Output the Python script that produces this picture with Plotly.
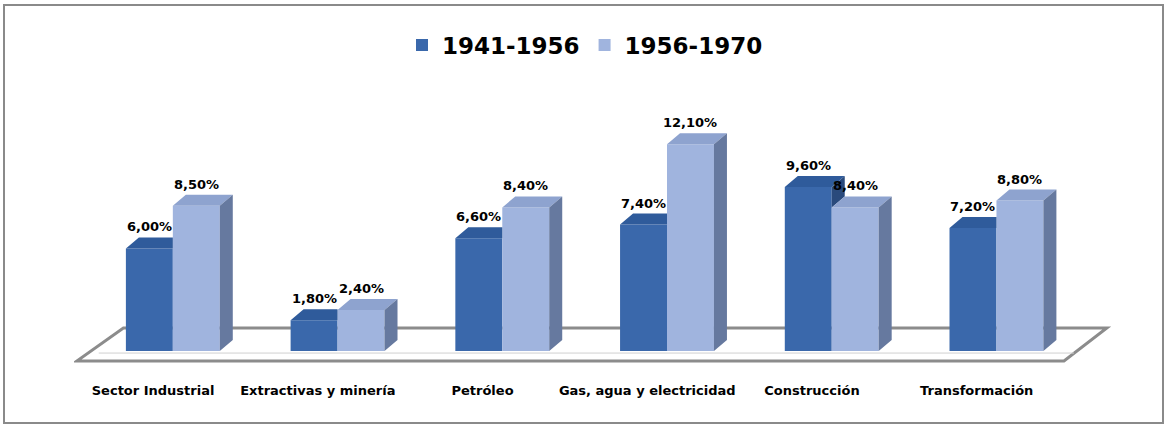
import plotly.graph_objects as go

# ---------------- data ----------------
categories = ["Sector Industrial", "Extractivas y minería", "Petróleo",
              "Gas, agua y electricidad", "Construcción", "Transformación"]
series_names = ["1941-1956", "1956-1970"]
v1941 = [6.0, 1.8, 6.6, 7.4, 9.6, 7.2]
v1956 = [8.5, 2.4, 8.4, 12.1, 8.4, 8.8]

# ---------------- layout geometry ----------------
W, H = 1167, 427
n = len(categories)
XR = (-0.6, n - 1 + 0.75)
YR = (-1.40, 15.85)
ML, MT, MB = 74, 80, 52
px_x = 164.8
MR = int(round(W - ML - px_x * (XR[1] - XR[0])))
pw, ph = W - ML - MR, H - MT - MB
px_x = pw / (XR[1] - XR[0])
px_y = ph / (YR[1] - YR[0])
BW = 0.285                 # width of each bar (category units)
DX = 13 / px_x             # 3D depth offset, horizontal
DY = 11 / px_y             # 3D depth offset, vertical

FONT = "DejaVu Sans"
C_DARK = dict(front="#3a68ab", top="#2f5b9b", side="#2a4a7c")
C_LIGHT = dict(front="#a0b4de", top="#8ea3cf", side="#66799f")

idx = list(range(n))
x_dark = [i - BW / 2 for i in idx]
x_light = [i + BW / 2 for i in idx]

fig = go.Figure()

# front faces (real bars)
fig.add_trace(go.Bar(x=x_dark, y=v1941, width=BW, name=series_names[0],
                     marker=dict(color=C_DARK["front"], line=dict(width=0)),
                     hoverinfo="skip"))
fig.add_trace(go.Bar(x=x_light, y=v1956, width=BW, name=series_names[1],
                     marker=dict(color=C_LIGHT["front"], line=dict(width=0)),
                     hoverinfo="skip"))


def poly_trace(xs, ys, color):
    return go.Scatter(x=xs, y=ys, mode="lines", fill="toself", fillcolor=color,
                      line=dict(width=0, color=color), showlegend=False,
                      hoverinfo="skip")


# dark bars: top and visible part of side
tx, ty, sx, sy = [], [], [], []
for i in idx:
    D, L = v1941[i], v1956[i]
    x0 = x_dark[i] - BW / 2
    xr = x_dark[i] + BW / 2
    if L > D:
        tx += [x0, xr, xr, x0 + DX, x0, None]
        ty += [D, D, D + DY, D + DY, D, None]
    else:
        tx += [x0, xr, xr + DX, x0 + DX, x0, None]
        ty += [D, D, D + DY, D + DY, D, None]
        sx += [xr, xr + DX, xr + DX, xr, xr, None]
        sy += [L, L + DY, D + DY, D, L, None]
fig.add_trace(poly_trace(tx, ty, C_DARK["top"]))
if sx:
    fig.add_trace(poly_trace(sx, sy, C_DARK["side"]))

# light bars: top and side
tx, ty, sx, sy = [], [], [], []
for i in idx:
    L = v1956[i]
    x0 = x_light[i] - BW / 2
    xr = x_light[i] + BW / 2
    tx += [x0, xr, xr + DX, x0 + DX, x0, None]
    ty += [L, L, L + DY, L + DY, L, None]
    sx += [xr, xr + DX, xr + DX, xr, xr, None]
    sy += [0, DY, L + DY, L, 0, None]
fig.add_trace(poly_trace(tx, ty, C_LIGHT["top"]))
fig.add_trace(poly_trace(sx, sy, C_LIGHT["side"]))

# value labels
annotations = []
for xs, vals in ((x_dark, v1941), (x_light, v1956)):
    for x, v in zip(xs, vals):
        annotations.append(dict(
            x=x, y=v, xref="x", yref="y", text=f"{v:.2f}%".replace(".", ","),
            showarrow=False, yanchor="bottom", yshift=12,
            font=dict(family=FONT, size=13, color="black", weight="bold")))

# floor (3D base plate)
fy0 = -10 / px_y
fy1 = 23 / px_y
fl = [(-0.583, fy0), (n - 1 + 0.41, fy0), (n - 1 + 0.67, fy1), (-0.30, fy1)]
floor_path = "M " + " L ".join(f"{a},{b}" for a, b in fl) + " Z"
shapes = [
    dict(type="path", path=floor_path, xref="x", yref="y", layer="below",
         fillcolor="white", line=dict(color="#8c8c8c", width=3)),
    dict(type="line", xref="x", yref="y", layer="below",
         x0=-0.45, x1=n - 1 + 0.47, y0=-2 / px_y, y1=-2 / px_y,
         line=dict(color="#d0d0d0", width=1)),
]


# outer chart border
def px2paper_x(p):
    return (p - ML) / pw


def px2paper_y(p):
    return (H - MB - p) / ph


shapes.append(dict(type="rect", xref="paper", yref="paper",
                   x0=px2paper_x(4), x1=px2paper_x(1163),
                   y0=px2paper_y(423), y1=px2paper_y(5),
                   line=dict(color="#8a8a8a", width=2), fillcolor="rgba(0,0,0,0)",
                   layer="below"))

fig.update_layout(
    width=W, height=H,
    margin=dict(l=ML, r=MR, t=MT, b=MB),
    paper_bgcolor="white", plot_bgcolor="white",
    barmode="overlay",
    showlegend=True,
    legend=dict(orientation="h", x=px2paper_x(585), xanchor="center",
                y=px2paper_y(45), yanchor="middle",
                font=dict(family=FONT, size=23, color="black", weight="bold"),
                bgcolor="rgba(0,0,0,0)"),
    xaxis=dict(range=list(XR), tickvals=[i - 0.12 for i in idx], ticktext=categories,
               showgrid=False, zeroline=False, showline=False, ticks="",
               ticklabelstandoff=6,
               tickfont=dict(family=FONT, size=13, color="black", weight="bold")),
    yaxis=dict(range=list(YR), visible=False),
    annotations=annotations,
    shapes=shapes,
)

fig.write_html("out.html", config={"displayModeBar": False},
               post_script="document.body.style.margin='0';document.body.style.padding='0';")
